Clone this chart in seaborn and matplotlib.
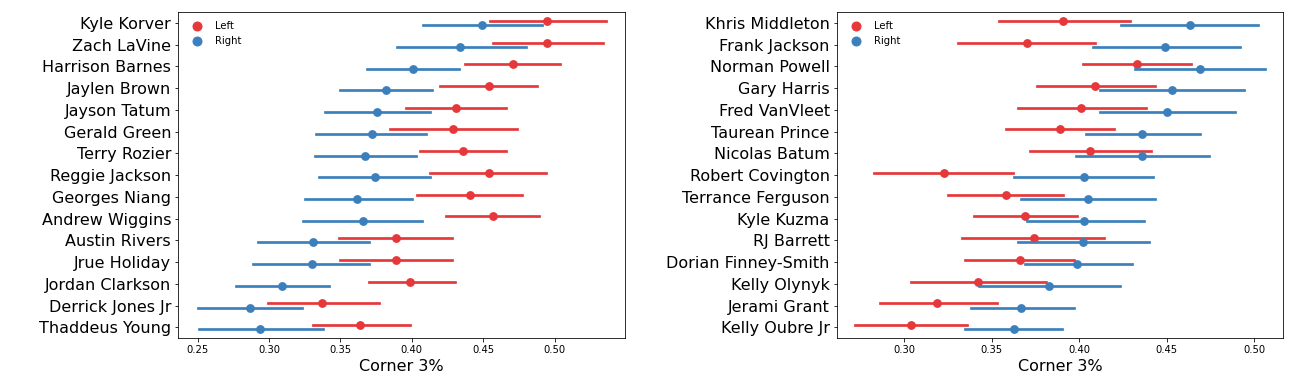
import numpy as np
import pandas as pd
import seaborn as sns
import matplotlib.pyplot as plt
from matplotlib.lines import Line2D

# Corner 3% by side, point estimate with interval bounds
leftPlayers = ['Kyle Korver', 'Zach LaVine', 'Harrison Barnes', 'Jaylen Brown', 'Jayson Tatum',
               'Gerald Green', 'Terry Rozier', 'Reggie Jackson', 'Georges Niang', 'Andrew Wiggins',
               'Austin Rivers', 'Jrue Holiday', 'Jordan Clarkson', 'Derrick Jones Jr', 'Thaddeus Young']
leftL_mid = [0.495, 0.495, 0.471, 0.454, 0.431, 0.429, 0.436, 0.454, 0.441, 0.457, 0.389, 0.389, 0.399, 0.337, 0.364]
leftL_lo = [0.455, 0.457, 0.437, 0.420, 0.396, 0.385, 0.406, 0.413, 0.404, 0.424, 0.349, 0.350, 0.370, 0.299, 0.331]
leftL_hi = [0.536, 0.534, 0.504, 0.488, 0.466, 0.474, 0.466, 0.494, 0.477, 0.489, 0.428, 0.428, 0.430, 0.377, 0.399]
leftR_mid = [0.449, 0.434, 0.401, 0.382, 0.376, 0.372, 0.367, 0.374, 0.362, 0.366, 0.331, 0.330, 0.309, 0.287, 0.294]
leftR_lo = [0.408, 0.390, 0.369, 0.350, 0.339, 0.333, 0.332, 0.335, 0.325, 0.324, 0.292, 0.289, 0.277, 0.250, 0.251]
leftR_hi = [0.491, 0.480, 0.433, 0.414, 0.413, 0.410, 0.403, 0.413, 0.400, 0.407, 0.370, 0.370, 0.342, 0.323, 0.338]

rightPlayers = ['Khris Middleton', 'Frank Jackson', 'Norman Powell', 'Gary Harris', 'Fred VanVleet',
                'Taurean Prince', 'Nicolas Batum', 'Robert Covington', 'Terrance Ferguson', 'Kyle Kuzma',
                'RJ Barrett', 'Dorian Finney-Smith', 'Kelly Olynyk', 'Jerami Grant', 'Kelly Oubre Jr']
rightL_mid = [0.391, 0.370, 0.433, 0.409, 0.401, 0.389, 0.406, 0.323, 0.358, 0.369, 0.374, 0.366, 0.342, 0.319, 0.304]
rightL_lo = [0.354, 0.331, 0.402, 0.376, 0.365, 0.358, 0.372, 0.283, 0.325, 0.340, 0.333, 0.335, 0.304, 0.286, 0.272]
rightL_hi = [0.429, 0.409, 0.464, 0.443, 0.438, 0.420, 0.441, 0.362, 0.391, 0.399, 0.414, 0.397, 0.381, 0.353, 0.336]
rightR_mid = [0.463, 0.449, 0.469, 0.453, 0.450, 0.436, 0.436, 0.403, 0.405, 0.403, 0.402, 0.399, 0.383, 0.367, 0.363]
rightR_lo = [0.424, 0.408, 0.432, 0.412, 0.412, 0.404, 0.398, 0.363, 0.367, 0.370, 0.365, 0.369, 0.343, 0.338, 0.335]
rightR_hi = [0.502, 0.492, 0.506, 0.494, 0.489, 0.469, 0.474, 0.442, 0.443, 0.437, 0.440, 0.430, 0.423, 0.397, 0.390]

sides = ['Left', 'Right']
colors = ['#e6373a', '#3b80bc']


def buildFrame(players, lMid, lLo, lHi, rMid, rLo, rHi):
    # three rows per player/side: low, point, high -> median & min/max give the interval
    rows = []
    for i, p in enumerate(players):
        for side, mid, lo, hi in (('Left', lMid, lLo, lHi), ('Right', rMid, rLo, rHi)):
            for v in (lo[i], mid[i], hi[i]):
                rows.append({'Player': p, 'Side': side, 'Corner 3%': v})
    return pd.DataFrame(rows)


def drawPanel(ax, df, players, xlim):
    sns.pointplot(
        data=df, x='Corner 3%', y='Player', hue='Side',
        order=players, hue_order=sides, palette=colors,
        estimator='median', errorbar=lambda v: (v.min(), v.max()),
        linestyle='none', dodge=0.2, ax=ax, legend=False
    )
    ax.set_xlim(*xlim)
    ax.set_ylabel('')
    ax.set_xlabel('Corner 3%', fontsize=16)
    ax.tick_params(axis='y', labelsize=16)
    ax.tick_params(axis='x', labelsize=10)
    handles = [Line2D([], [], marker='o', linestyle='none', color=c, markersize=9) for c in colors]
    ax.legend(handles, sides, loc='upper left', frameon=False, fontsize=10)


fig, axes = plt.subplots(1, 2, figsize=(1300 / 72, 390 / 72), dpi=72)
fig.subplots_adjust(left=0.137, right=0.987, top=0.969, bottom=0.133, wspace=0.475)

dfLeft = buildFrame(leftPlayers, leftL_mid, leftL_lo, leftL_hi, leftR_mid, leftR_lo, leftR_hi)
dfRight = buildFrame(rightPlayers, rightL_mid, rightL_lo, rightL_hi, rightR_mid, rightR_lo, rightR_hi)

drawPanel(axes[0], dfLeft, leftPlayers, (0.2364, 0.549))
drawPanel(axes[1], dfRight, rightPlayers, (0.2615, 0.5164))

fig.savefig('out.png', dpi=72)
